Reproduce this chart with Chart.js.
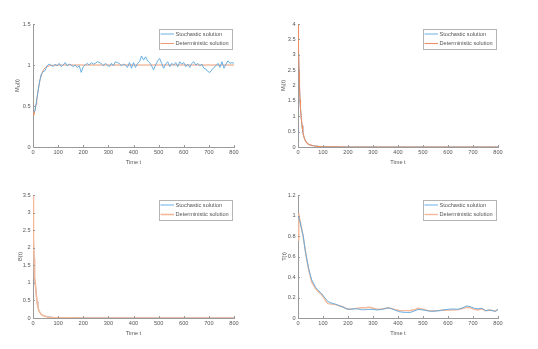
<!DOCTYPE html>
<html><head><meta charset="utf-8">
<script src="https://cdn.jsdelivr.net/npm/chart.js@4.4.0/dist/chart.umd.min.js"></script>
<style>
html,body{margin:0;padding:0;background:#fff;width:538px;height:349px;overflow:hidden;}
canvas{position:absolute;}
</style></head><body>
<canvas id="c1" width="244" height="163" style="left:0px;top:14px"></canvas>
<canvas id="c2" width="243" height="163" style="left:265px;top:14px"></canvas>
<canvas id="c3" width="244" height="163" style="left:0px;top:185px"></canvas>
<canvas id="c4" width="243" height="163" style="left:265px;top:185px"></canvas>
<script>
// ---------- data ----------
const seriesNames = ['Stochastic solution', 'Deterministic solution'];
const xTicksLabel = 'Time t';

// M_U(t)
const tMuStoch = [0,8,16,24,32,40,48,56,64,72,80,88,96,104,112,120,128,136,144,152,160,168,176,184,192,200,208,216,224,232,240,248,256,264,272,280,288,296,304,312,320,328,336,344,352,360,368,376,384,392,400,408,416,424,432,440,448,456,464,472,480,488,496,504,512,520,528,536,544,552,560,568,576,584,592,600,608,616,624,632,640,648,656,664,672,680,688,696,704,712,720,728,736,744,752,760,768,776,784,792,800];
const muStoch = [0.42,0.44,0.60,0.76,0.88,0.92,0.93,0.99,1.01,1.00,0.98,1.01,0.99,1.02,0.98,1.00,1.03,0.99,1.01,1.00,0.98,1.00,0.97,0.99,0.91,0.98,1.00,1.02,1.00,1.03,1.01,1.02,1.04,1.03,1.02,0.99,1.02,1.00,0.98,1.02,0.99,1.04,1.03,1.02,0.99,1.01,1.00,0.97,1.03,0.96,1.03,0.97,1.02,1.04,1.11,1.06,1.10,1.05,1.03,0.99,0.94,1.00,1.05,1.08,1.02,0.96,1.01,1.04,0.98,1.02,1.00,1.03,0.98,1.04,1.01,1.03,0.98,1.01,0.97,1.02,1.04,1.00,1.02,0.99,1.01,0.96,0.95,0.92,0.91,0.94,0.97,0.99,1.02,0.97,1.04,0.96,1.01,1.05,1.02,1.03,1.02];
const tMuDet = [0,3,8,12,15,20,25,28,35,41,48,54,65,80,100,150,200,300,400,500,600,700,800];
const muDet = [0.43,0.39,0.45,0.52,0.58,0.68,0.77,0.82,0.89,0.94,0.965,0.98,0.99,0.997,1,1,1,1,1,1,1,1,1];

// M_I(t)
const tMi = [0,2,4,6,8,10,13,16,19,23,28,34,40,50,60,80,100,150,200,300,400,500,600,700,800];
const miStoch = [4.0,3.15,2.45,1.95,1.5,1.22,0.93,0.69,0.49,0.35,0.23,0.15,0.1,0.065,0.045,0.022,0.012,0.005,0.002,0.001,0,0.001,0,0.001,0];
const miDet = [4.0,3.2,2.5,2.0,1.55,1.25,0.95,0.7,0.5,0.35,0.23,0.15,0.1,0.06,0.04,0.02,0.01,0.004,0.001,0,0,0,0,0,0];

// B(t)
const tB = [0,1,2.6,4,5.3,7,9,12,16,19,22,27,33,40,48,60,80,100,150,200,300,400,500,600,700,800];
const bStoch = [3.5,2.85,2.25,1.68,1.36,1.14,0.98,0.74,0.46,0.33,0.24,0.16,0.1,0.07,0.05,0.03,0.015,0.008,0.003,0.001,0,0,0,0,0,0];
const bDet = [3.5,2.9,2.3,1.7,1.37,1.15,1.0,0.75,0.47,0.33,0.24,0.16,0.1,0.07,0.05,0.03,0.015,0.008,0.003,0.001,0,0,0,0,0,0];

// T(t)
const tT = [0,3,8,14,21,28,35,42,48,55,62,70,80,90,100,110,120,135,150,165,180,195,210,225,240,255,270,285,300,315,330,345,360,375,390,405,420,435,450,465,480,495,510,525,540,560,580,600,620,640,660,675,690,705,720,735,750,765,780,790,800];
const tStoch = [1.0,1.0,0.94,0.87,0.8,0.67,0.58,0.49,0.43,0.37,0.34,0.3,0.27,0.25,0.22,0.19,0.16,0.145,0.135,0.12,0.105,0.09,0.085,0.09,0.088,0.08,0.082,0.083,0.085,0.078,0.082,0.09,0.1,0.09,0.075,0.062,0.056,0.054,0.055,0.068,0.083,0.08,0.075,0.067,0.066,0.07,0.078,0.085,0.088,0.085,0.1,0.118,0.11,0.095,0.09,0.095,0.072,0.078,0.07,0.065,0.085];
const tDet = [0.76,1.02,0.95,0.88,0.79,0.68,0.57,0.48,0.42,0.35,0.32,0.29,0.26,0.24,0.21,0.17,0.14,0.135,0.13,0.12,0.11,0.088,0.085,0.092,0.095,0.1,0.1,0.105,0.095,0.085,0.085,0.09,0.1,0.092,0.08,0.073,0.072,0.072,0.073,0.08,0.095,0.088,0.078,0.07,0.068,0.072,0.075,0.077,0.078,0.082,0.095,0.105,0.098,0.085,0.078,0.09,0.07,0.078,0.072,0.068,0.085];

// ---------- styling ----------
const BLUE = '#5aa8e0';
const ORANGE = '#ec8d63';
const ORANGE_PALE = '#f4b89a';
const AXIS = '#9a9a9a';
const TXT = '#555555';
const FONT = 'Liberation Sans, Arial, sans-serif';
const FS = 5.6;

function pts(xs, ys){ return xs.map((x,i)=>({x:x, y:ys[i]})); }
function fmt(v){ return String(Number(v.toFixed(2))); }

const inward = {
  id:'inward',
  afterDraw(chart){
    const ctx=chart.ctx, a=chart.chartArea, xs=chart.scales.x, ys=chart.scales.y;
    ctx.save(); ctx.strokeStyle=AXIS; ctx.lineWidth=1; ctx.beginPath();
    xs.ticks.forEach(t=>{const px=Math.round(xs.getPixelForValue(t.value))+0.5; ctx.moveTo(px,a.bottom); ctx.lineTo(px,a.bottom-2);});
    ys.ticks.forEach(t=>{const py=Math.round(ys.getPixelForValue(t.value))+0.5; ctx.moveTo(a.left,py); ctx.lineTo(a.left+2,py);});
    ctx.stroke(); ctx.restore();
  }
};

const ylab = {
  id:'ylab',
  afterDraw(chart, args, opts){
    const a=chart.chartArea, ctx=chart.ctx;
    const txt = chart.options.scales.y.title.text;
    const parts = txt.split('_');
    const cx = a.left + opts.dx, cy = (a.top+a.bottom)/2;
    ctx.save(); ctx.translate(cx, cy); ctx.rotate(-Math.PI/2);
    ctx.fillStyle=TXT; ctx.textBaseline='middle';
    const big = FS+'px '+FONT, small = (FS*0.75)+'px '+FONT;
    let segs;
    if (parts.length>1){
      const sub = parts[1].charAt(0), rest = parts[1].slice(1);
      segs=[[parts[0],big,0],[sub,small,1.5],[rest,big,0]];
    } else segs=[[txt,big,0]];
    let w=0; segs.forEach(s=>{ctx.font=s[1]; w+=ctx.measureText(s[0]).width;});
    let x=-w/2;
    segs.forEach(s=>{ctx.font=s[1]; ctx.textAlign='left'; ctx.fillText(s[0], x, s[2]); x+=ctx.measureText(s[0]).width;});
    ctx.restore();
  }
};

const boxLegend = {
  id:'boxLegend',
  afterDraw(chart){
    const a=chart.chartArea, ctx=chart.ctx;
    const w=73, h=20, right=a.right-2, top=a.top+5, left=right-w;
    ctx.save();
    ctx.fillStyle='#fff'; ctx.fillRect(left,top,w,h);
    ctx.strokeStyle='#b4b4b4'; ctx.lineWidth=1;
    ctx.strokeRect(Math.round(left)+0.5, Math.round(top)+0.5, w, h);
    const rows=[top+5, top+14.5];
    const ds = chart.data.datasets;
    ds.forEach((d,i)=>{
      ctx.strokeStyle=d.borderColor; ctx.lineWidth=d.borderWidth;
      ctx.beginPath(); ctx.moveTo(left+1.5, rows[i]); ctx.lineTo(left+15, rows[i]); ctx.stroke();
      ctx.fillStyle=TXT; ctx.font=FS+'px '+FONT; ctx.textBaseline='middle'; ctx.textAlign='left';
      ctx.fillText(d.label, left+16.5, rows[i]);
    });
    ctx.restore();
  }
};

function make(id, label, dx, stochPts, detPts, yMax, yStep, detOnTop, orangeColor, orangeW){
  new Chart(document.getElementById(id), {
    type:'line',
    data:{datasets:[
      {label:seriesNames[0], data:stochPts, borderColor:BLUE, borderWidth:0.9, pointRadius:0, tension:0, order: detOnTop?2:1},
      {label:seriesNames[1], data:detPts, borderColor:orangeColor, borderWidth:orangeW, pointRadius:0, tension:0, order: detOnTop?1:2}
    ]},
    options:{
      responsive:false, animation:false, devicePixelRatio:1,
      layout:{padding:{left:0,right:10,top:10,bottom:0}},
      plugins:{legend:{display:false}, tooltip:{enabled:false}, ylab:{dx:dx}},
      scales:{
        x:{type:'linear', min:0, max:800,
          grid:{display:true, drawOnChartArea:false, drawTicks:false},
          border:{display:true, color:AXIS, width:1},
          ticks:{stepSize:100, padding:2.5, color:TXT, font:{family:FONT,size:FS}, maxRotation:0, autoSkip:false, callback:fmt},
          title:{display:true, text:xTicksLabel, color:TXT, font:{family:FONT,size:FS}, padding:{top:0,bottom:11.5}},
          afterFit(s){ s.height=30; }
        },
        y:{type:'linear', min:0, max:yMax,
          grid:{display:true, drawOnChartArea:false, drawTicks:false},
          border:{display:true, color:AXIS, width:1},
          ticks:{stepSize:yStep, padding:2.5, color:TXT, font:{family:FONT,size:FS}, autoSkip:false, callback:fmt},
          title:{display:false, text:label},
          afterFit(s){ s.width=33; }
        }
      }
    },
    plugins:[inward, ylab, boxLegend]
  });
}

make('c1','M_U(t)',-16, pts(tMuStoch,muStoch), pts(tMuDet,muDet), 1.5, 0.5, false, ORANGE, 0.9);
make('c2','M_I(t)',-15, pts(tMi,miStoch), pts(tMi,miDet), 4, 0.5, true, ORANGE, 1.1);
make('c3','B(t)',-12.5, pts(tB,bStoch), pts(tB,bDet), 3.5, 0.5, true, ORANGE_PALE, 1.6);
make('c4','T(t)',-14, pts(tT,tStoch), pts(tT,tDet), 1.2, 0.2, false, ORANGE_PALE, 1.4);
</script>
</body></html>
